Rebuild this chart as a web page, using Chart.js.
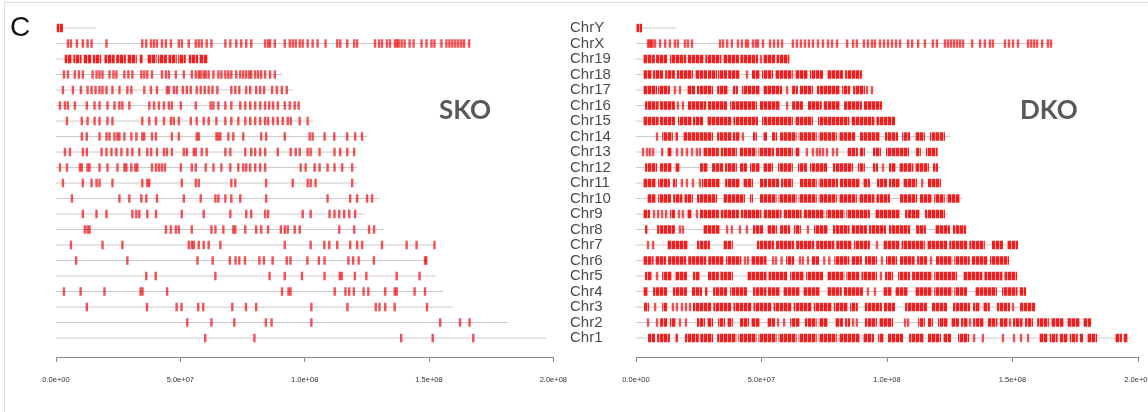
<!DOCTYPE html>
<html>
<head>
<meta charset="utf-8">
<script src="https://cdn.jsdelivr.net/npm/chart.js@4.4.0/dist/chart.umd.min.js"></script>
<style>
  html, body { margin: 0; padding: 0; background: #fff; width: 1148px; height: 412px; overflow: hidden; }
  #frame { position: absolute; left: 4px; top: 2px; width: 1300px; height: 600px; border: 1.5px solid #dedede; }
  canvas { position: absolute; top: 0; }
  #sko { left: 0; }
  #dko { left: 560px; }
  .lbl { position: absolute; line-height: 1; white-space: nowrap; }
  #panel { left: 10px; top: 11px; font: 28px "Liberation Sans", Arial, sans-serif; color: #111; }
  .tag { top: 93px; font: bold 26px Lato, "Liberation Sans", sans-serif; color: #595959; }
</style>
</head>
<body>
<div id="frame"></div>
<canvas id="sko" width="580" height="412"></canvas>
<canvas id="dko" width="620" height="412"></canvas>
<div class="lbl" id="panel">C</div>
<div class="lbl tag" style="left:439px">SKO</div>
<div class="lbl tag" style="left:1020px">DKO</div>
<script>
// --- data (positions in Mb, rows Chr1 .. ChrY) ---
const chromosomes = ["Chr1", "Chr2", "Chr3", "Chr4", "Chr5", "Chr6", "Chr7", "Chr8", "Chr9", "Chr10",
  "Chr11", "Chr12", "Chr13", "Chr14", "Chr15", "Chr16", "Chr17", "Chr18", "Chr19", "ChrX", "ChrY"];
const chromLengthsMb = [197.2, 181.7, 159.6, 155.6, 152.5, 149.5, 152.5, 131.7, 124.1, 130.0,
  121.8, 121.3, 120.3, 125.2, 103.5, 98.3, 95.3, 90.8, 61.3, 166.7, 15.9];
const xTickValues = [0, 5e7, 1e8, 1.5e8, 2e8];

const skoMarks = [
  [60.0, 79.8, 138.8, 151.5, 167.8],
  [52.8, 62.5, 71.7, 84.4, 86.7, 102.7, 154.5, 162.5, 166.3],
  [12.4, 36.6, 48.5, 50.5, 57.2, 59.2, 70.9, 76.4, 80.5, 102.7, 117.2, 128.6, 130.1, 132.4, 136.2, 149.2],
  [3.2, 9.9, 19.5, 34.0, 34.8, 44.7, 90.9, 93.5, 94.3, 112.1, 116.4, 117.9, 119.8, 123.7, 125.6, 132.4, 136.2, 137.0, 144.2, 148.4],
  [36.3, 40.1, 64.1, 85.9, 92.0, 98.9, 108.0, 114.1, 114.9, 120.2, 124.8, 137.0, 146.2],
  [8.1, 28.7, 56.9, 63.0, 69.9, 72.2, 73.7, 76.0, 81.8, 83.6, 87.1, 92.8, 94.3, 101.1, 105.7, 108.0, 117.6, 119.5, 121.7, 127.8, 148.4, 148.9],
  [6.0, 18.7, 26.7, 53.4, 54.6, 55.4, 57.4, 59.4, 61.4, 66.1, 92.0, 102.4, 107.9, 109.9, 113.1, 118.3, 121.1, 123.1, 131.1, 141.0, 145.0, 152.2],
  [11.6, 12.7, 13.5, 44.2, 46.2, 48.2, 49.4, 54.6, 62.5, 64.1, 67.3, 71.3, 72.1, 76.1, 80.5, 82.5, 85.3, 90.4, 92.0, 93.2, 96.0, 98.0, 113.9, 119.9, 125.9, 127.9],
  [10.8, 16.3, 20.3, 30.7, 32.3, 33.5, 36.7, 40.2, 50.6, 59.4, 70.1, 76.5, 78.5, 84.1, 85.3, 99.2, 102.4, 110.0, 112.0, 113.9, 115.9, 117.9, 120.3],
  [6.4, 25.5, 29.5, 34.3, 36.3, 40.6, 51.4, 58.2, 64.1, 65.3, 68.1, 70.5, 74.1, 84.5, 109.2, 118.3, 121.1, 125.1, 127.1],
  [2.8, 10.8, 14.3, 16.3, 17.5, 22.7, 34.7, 36.7, 37.5, 50.6, 56.2, 57.4, 70.5, 72.1, 84.5, 95.2, 101.2, 102.4, 104.4, 119.1],
  [1.6, 4.4, 9.6, 10.4, 12.7, 13.5, 17.5, 20.7, 24.7, 27.5, 28.3, 30.3, 31.9, 32.7, 38.6, 40.2, 41.4, 42.6, 43.8, 50.2, 54.6, 56.2,
    60.2, 63.3, 66.5, 70.1, 73.3, 75.3, 76.5, 78.1, 80.1, 82.1, 84.1, 98.4, 100.4, 104.0, 106.0, 109.2, 112.0, 115.1, 119.1],
  [3.6, 5.6, 10.8, 12.4, 18.3, 20.3, 22.3, 24.3, 26.3, 28.7, 30.7, 33.5, 36.7, 38.2, 40.6, 43.4, 44.6, 46.6, 51.4, 52.6, 55.4, 56.2,
    58.6, 60.6, 68.1, 70.1, 76.1, 78.5, 80.1, 82.1, 84.1, 89.2, 94.4, 96.4, 98.0, 101.2, 102.4, 106.0, 112.0, 114.3, 117.1, 119.9],
  [10.4, 12.4, 17.5, 20.3, 21.5, 23.5, 24.7, 25.5, 27.5, 30.3, 32.3, 34.7, 35.5, 38.6, 40.2, 46.6, 49.4, 56.6, 57.4, 64.5, 65.3, 66.1,
    69.3, 71.3, 75.3, 82.5, 84.5, 92.0, 102.0, 103.2, 108.0, 111.9, 117.1, 120.3, 123.1],
  [4.4, 10.4, 12.7, 15.5, 17.5, 20.7, 22.7, 34.7, 37.5, 40.2, 43.4, 46.2, 47.4, 49.4, 54.2, 56.6, 59.4, 61.4, 64.5, 68.1, 70.5, 73.3,
    76.1, 78.1, 80.1, 82.1, 84.1, 85.3, 87.3, 89.2, 91.2, 93.2, 94.4, 98.0, 101.2],
  [1.6, 3.6, 4.8, 7.6, 12.4, 15.5, 17.5, 20.7, 23.5, 25.5, 26.7, 29.5, 37.5, 39.4, 41.4, 43.4, 45.4, 46.6, 50.2, 56.2, 62.2, 63.3,
    65.3, 68.1, 70.5, 74.1, 76.1, 78.1, 80.1, 82.1, 84.1, 85.7, 87.3, 89.2, 92.0, 94.0, 96.0, 97.6],
  [2.8, 6.8, 10.0, 12.7, 14.3, 15.9, 17.5, 18.7, 20.3, 22.7, 25.5, 28.7, 30.3, 35.5, 38.2, 40.6, 44.6, 45.4, 47.4, 48.6, 51.0, 52.6,
    54.2, 56.6, 58.2, 59.8, 61.4, 62.9, 64.9, 70.5, 72.1, 73.7, 76.5, 78.1, 80.5, 82.1, 83.7, 86.9, 88.8, 90.8, 92.8],
  [3.2, 4.8, 7.6, 9.2, 10.8, 14.7, 16.3, 17.5, 18.7, 21.5, 23.1, 24.3, 27.5, 29.1, 30.7, 34.3, 35.5, 36.7, 38.6, 42.6, 44.2, 45.4,
    48.2, 51.4, 54.6, 56.2, 57.4, 58.2, 59.4, 60.2, 61.4, 63.3, 65.3, 66.5, 68.1, 69.3, 70.5, 72.5, 74.1, 75.3, 76.5, 77.7, 78.5,
    80.1, 81.3, 82.5, 84.1, 86.1, 88.0],
  [],
  [4.8, 6.0, 8.4, 10.8, 12.7, 14.3, 20.3, 34.7, 36.3, 38.2, 39.4, 40.6, 42.6, 44.2, 46.2, 49.4, 50.6, 53.4, 56.2, 57.4, 58.6, 60.6,
    62.5, 68.1, 70.1, 72.5, 74.5, 76.5, 78.5, 84.1, 85.3, 86.1, 88.0, 92.0, 94.0, 95.2, 96.4, 98.0, 99.2, 101.2, 103.2, 105.2, 108.4,
    113.1, 114.3, 117.1, 119.9, 121.1, 128.3, 129.9, 131.1, 133.1, 134.3, 136.3, 137.1, 137.8, 139.0, 140.2, 142.2, 143.8, 147.0,
    149.0, 151.0, 152.2, 155.0, 157.0, 158.2, 159.4, 160.6, 161.8, 163.0, 164.1, 166.1],
  []
];
const skoBlocks = [
  [], [], [], [], [], [], [], [], [], [], [], [], [], [], [], [], [], [],
  [[3.5, 6.5], [7.0, 10.3], [11.0, 14.3], [14.8, 18.2], [19.5, 23.6], [24.2, 28.1], [28.6, 32.5], [33.5, 34.8],
    [36.6, 40.5], [41.0, 44.6], [45.2, 48.6], [49.1, 52.2], [53.4, 57.1], [57.6, 61.0]],
  [],
  [[0.3, 2.8]]
];

const dkoMarks = [
  [134.7, 138.2, 146.2, 150.6, 153.4, 156.2],
  [4.8, 8.4, 17.5, 19.9, 56.6, 59.0, 86.5, 88.0, 107.2, 108.4, 133.1, 149.0],
  [7.6, 14.7, 16.3, 18.3, 19.9, 21.5, 150.2],
  [92.4, 95.2],
  [8.4, 97.6],
  [43.4, 44.6, 54.6, 55.8, 58.0, 65.3, 66.5, 68.5, 75.0, 77.0, 98.0, 117.5],
  [4.8, 6.8, 96.0],
  [17.5, 18.7, 36.3, 38.2, 41.4, 44.2, 68.5],
  [7.2, 8.8, 10.4, 12.0, 17.1, 18.7, 24.3],
  [],
  [18.3, 20.3, 22.7, 25.5, 114.0],
  [98.4],
  [2.8, 4.4, 5.6, 6.8, 10.4, 16.3, 18.3, 20.3, 22.3, 24.3, 25.5, 68.1, 70.5, 72.1, 73.3, 74.5, 76.1, 78.5, 80.1],
  [8.4, 42.6],
  [],
  [16.7, 18.7, 60.2],
  [15.5, 17.5, 60.2, 92.0, 94.0],
  [44.2],
  [49.8],
  [4.8, 5.4, 6.0, 6.6, 7.6, 9.6, 11.6, 13.5, 15.5, 16.7, 19.5, 20.7, 22.3, 33.5, 34.7, 36.3, 38.2, 40.6, 42.2, 43.8, 44.6, 46.6,
    47.8, 48.6, 50.6, 53.4, 55.0, 56.6, 58.2, 62.5, 64.1, 65.7, 67.3, 68.9, 70.5, 72.5, 74.5, 76.5, 78.1, 80.1, 84.1, 86.5, 88.0,
    90.8, 92.4, 94.0, 95.2, 97.2, 98.8, 100.4, 102.0, 103.6, 105.2, 108.4, 110.0, 112.4, 115.1, 118.3, 119.9, 123.1, 124.3, 125.5,
    126.7, 127.9, 129.1, 130.3, 133.9, 137.1, 139.0, 141.0, 142.2, 147.0, 148.6, 150.2, 152.2, 156.2, 157.4, 158.6, 159.8, 161.8,
    164.1, 165.3],
  []
];
const dkoBlocks = [
  [[4.8, 7.6], [8.4, 13.5], [15.5, 16.7], [19.5, 25.0], [25.6, 30.7], [32.3, 40.0], [40.8, 48.0], [48.8, 56.0], [56.8, 64.0],
    [64.8, 72.0], [72.8, 80.0], [80.8, 89.2], [90.4, 94.8], [96.4, 98.8], [100.4, 106.4], [108.8, 114.7], [116.3, 121.5],
    [122.3, 125.5], [128.3, 132.7], [160.6, 164.0], [164.8, 168.0], [168.8, 172.0], [172.8, 176.0], [176.8, 178.1],
    [179.7, 183.7], [190.8, 193.6], [194.2, 196.0]],
  [[9.6, 12.4], [13.5, 15.9], [24.3, 27.5], [28.3, 30.7], [32.7, 35.5], [36.3, 38.6], [41.4, 45.0], [45.8, 49.4], [52.2, 55.4],
    [61.4, 65.3], [67.3, 72.0], [72.8, 76.5], [79.3, 82.5], [83.3, 85.3], [91.2, 96.0], [96.8, 102.4], [112.4, 115.1],
    [116.3, 118.3], [120.3, 124.3], [125.5, 128.7], [129.5, 132.3], [134.3, 138.6], [140.2, 144.0], [145.0, 148.2],
    [150.2, 154.0], [155.0, 158.2], [159.8, 164.5], [165.3, 170.5], [171.7, 176.9], [178.1, 181.3]],
  [[3.2, 5.2], [10.4, 12.4], [22.7, 30.0], [30.8, 38.0], [38.8, 46.0], [46.8, 54.0], [54.8, 62.0], [62.8, 70.0], [70.8, 78.0],
    [78.8, 84.5], [85.3, 88.4], [91.2, 98.0], [98.8, 103.2], [107.2, 115.9], [117.9, 123.9], [126.3, 133.1], [134.3, 137.1],
    [138.2, 141.0], [143.8, 149.0], [153.0, 159.0]],
  [[2.8, 4.8], [6.8, 12.4], [14.7, 20.3], [22.3, 26.3], [27.5, 28.7], [30.7, 36.3], [37.5, 44.2], [46.6, 52.0], [52.6, 57.4],
    [58.6, 65.3], [66.5, 73.3], [76.1, 82.0], [82.8, 90.4], [98.4, 102.0], [103.2, 108.4], [111.2, 118.0], [118.8, 126.0],
    [126.8, 131.9], [135.1, 143.8], [145.8, 152.0], [152.8, 155.4]],
  [[3.6, 6.4], [10.4, 14.3], [15.5, 20.3], [22.7, 25.5], [28.7, 33.0], [33.6, 38.6], [44.2, 52.0], [52.8, 60.2], [61.4, 67.0],
    [67.8, 74.5], [76.1, 83.0], [83.8, 89.0], [89.8, 96.0], [99.2, 102.4], [104.4, 109.2], [110.0, 118.0], [118.8, 127.9],
    [130.3, 138.0], [138.8, 146.0], [146.8, 151.8]],
  [[2.8, 7.0], [7.6, 12.0], [12.8, 20.0], [20.8, 28.0], [28.8, 35.0], [35.8, 42.0], [45.8, 52.0], [59.8, 63.0], [70.0, 73.0],
    [79.0, 85.0], [85.8, 90.0], [91.2, 96.0], [99.6, 104.0], [105.2, 111.0], [112.0, 116.0], [119.5, 126.0], [126.8, 133.0],
    [133.8, 140.0], [141.0, 148.6]],
  [[12.4, 20.7], [24.3, 29.5], [34.7, 38.6], [48.2, 55.0], [55.8, 63.0], [63.8, 71.0], [71.8, 79.0], [79.8, 86.0], [86.8, 93.2],
    [98.4, 105.0], [105.8, 115.1], [115.9, 124.0], [124.8, 132.0], [132.8, 139.0], [141.8, 146.2], [147.8, 152.2]],
  [[3.6, 4.8], [8.4, 15.5], [26.7, 33.5], [46.6, 50.6], [52.2, 56.2], [57.4, 61.4], [62.9, 65.7], [70.9, 76.5], [78.5, 85.1],
    [85.9, 92.0], [92.8, 99.6], [100.8, 109.2], [111.6, 115.5], [119.1, 125.1], [126.3, 131.5]],
  [[2.8, 5.6], [13.5, 15.5], [20.3, 22.3], [25.5, 33.0], [33.8, 41.0], [41.8, 50.0], [50.8, 58.0], [58.8, 66.0], [66.8, 75.0],
    [75.8, 83.0], [83.8, 93.2], [95.2, 105.2], [107.2, 113.1], [115.1, 123.1]],
  [[4.4, 8.0], [8.8, 14.0], [14.8, 18.5], [19.3, 22.7], [24.3, 32.3], [34.7, 43.4], [45.4, 46.6], [49.4, 56.0], [56.8, 64.0],
    [64.8, 72.0], [72.8, 80.0], [80.8, 88.0], [88.8, 95.0], [95.8, 101.2], [105.2, 112.0], [113.1, 118.0], [118.8, 123.0],
    [123.8, 129.1]],
  [[2.8, 8.0], [8.8, 13.5], [14.7, 16.3], [26.3, 33.5], [35.5, 41.4], [42.6, 46.6], [49.4, 52.2], [52.6, 57.0], [57.8, 62.5],
    [65.3, 72.0], [72.8, 80.5], [81.3, 89.2], [90.4, 93.2], [96.0, 100.0], [100.8, 105.2], [106.4, 112.0], [116.3, 121.5]],
  [[3.6, 8.4], [9.6, 14.3], [15.5, 17.5], [25.5, 28.7], [30.3, 34.7], [35.5, 40.2], [41.4, 44.2], [45.4, 49.4], [50.6, 54.6],
    [56.6, 62.5], [64.5, 68.1], [69.3, 76.1], [78.5, 86.5], [88.4, 91.2], [94.4, 96.4], [100.8, 103.6], [104.8, 110.5],
    [111.2, 116.7], [118.3, 120.3]],
  [[12.4, 14.3], [26.7, 33.0], [33.8, 40.2], [41.4, 48.0], [48.8, 55.0], [55.8, 62.5], [63.3, 65.3], [84.1, 88.4], [89.2, 91.2],
    [94.4, 97.6], [99.6, 108.8], [111.6, 113.5], [115.5, 120.2]],
  [[10.4, 14.7], [15.5, 16.7], [18.7, 30.7], [32.3, 38.2], [38.6, 41.4], [46.6, 48.2], [50.6, 52.2], [54.2, 56.2], [57.4, 64.0],
    [64.8, 72.0], [72.8, 80.0], [80.8, 87.3], [89.2, 97.2], [99.2, 104.4], [106.0, 109.2], [111.2, 115.1], [117.1, 123.1]],
  [[2.8, 9.0], [9.6, 15.5], [16.7, 22.3], [22.7, 26.7], [28.3, 38.0], [38.8, 48.6], [50.2, 62.5], [63.3, 70.5], [72.5, 85.0],
    [85.8, 95.0], [95.8, 103.2]],
  [[3.6, 9.0], [9.6, 15.5], [20.7, 28.0], [28.7, 36.3], [37.5, 48.2], [49.4, 57.4], [62.2, 66.5], [68.5, 74.0], [74.8, 81.3],
    [82.9, 90.0], [90.8, 98.0]],
  [[2.8, 8.4], [8.8, 13.5], [20.3, 23.5], [24.3, 30.7], [32.3, 36.7], [38.6, 40.6], [42.2, 49.4], [50.6, 58.2], [62.2, 64.5],
    [65.3, 70.5], [72.1, 81.3], [82.1, 85.3], [86.5, 91.2]],
  [[2.8, 6.4], [6.8, 10.8], [11.6, 15.5], [16.3, 22.7], [23.5, 28.3], [28.7, 32.3], [32.7, 36.3], [36.7, 41.4], [46.2, 49.4],
    [50.2, 54.6], [55.4, 62.5], [63.3, 68.5], [69.3, 74.5], [76.1, 82.5], [83.3, 90.0]],
  [[2.8, 7.5], [8.0, 12.4], [13.5, 20.0], [20.6, 27.0], [27.6, 34.0], [34.6, 41.0], [41.6, 48.6], [50.6, 55.5], [56.0, 61.1]],
  [],
  [[0.2, 2.4]]
];

// --- helpers ---
const MB = 1e6;
const markColor = "rgba(238,0,6,0.68)";

// striped fill so dense runs read as many close marks, like the original
function stripePattern(ctx) {
  const c = document.createElement("canvas");
  c.width = 4; c.height = 16;
  const p = c.getContext("2d");
  p.fillStyle = "rgba(240,0,0,0.88)";
  p.fillRect(0, 0, 3, 16);
  p.fillStyle = "rgba(245,90,100,0.55)";
  p.fillRect(3, 0, 1, 16);
  return ctx.createPattern(c, "repeat");
}

function rowLinePoints() {
  const pts = [];
  chromLengthsMb.forEach((len, i) => {
    pts.push({ x: 0, y: i + 1 }, { x: len * MB, y: i + 1 }, { x: null, y: null });
  });
  return pts;
}

function markPoints(marks) {
  const pts = [];
  marks.forEach((row, i) => row.forEach((m) => pts.push({ x: m * MB, y: i + 1 })));
  return pts;
}

function blockPoints(blocks) {
  const pts = [];
  blocks.forEach((row, i) => row.forEach(([a, b]) => {
    pts.push({ x: a * MB, y: i + 1 }, { x: b * MB, y: i + 1 }, { x: null, y: null });
  }));
  return pts;
}

function sciLabel(v) {
  return Number(v).toExponential(1).replace(/e([+-])(\d)$/, "e$10$2");
}

function drawPanel(canvasId, marks, blocks, withNames, padding) {
  const ctx = document.getElementById(canvasId).getContext("2d");
  return new Chart(ctx, {
    type: "line",
    data: {
      datasets: [
        {
          data: markPoints(marks),
          showLine: false,
          pointStyle: "line",
          pointRotation: 90,
          pointRadius: 4.2,
          pointBorderWidth: 2.4,
          pointBorderColor: markColor,
          pointBackgroundColor: markColor,
          order: 1,
        },
        {
          data: blockPoints(blocks),
          borderColor: stripePattern(ctx),
          borderWidth: 8.4,
          borderCapStyle: "butt",
          pointRadius: 0,
          spanGaps: false,
          order: 2,
        },
        {
          data: rowLinePoints(),
          borderColor: "#c9c9c9",
          borderWidth: 1,
          pointRadius: 0,
          spanGaps: false,
          order: 3,
        },
      ],
    },
    options: {
      responsive: false,
      animation: false,
      events: [],
      layout: { padding },
      plugins: { legend: { display: false }, tooltip: { enabled: false } },
      scales: {
        x: {
          type: "linear",
          min: 0,
          max: 2e8,
          afterBuildTicks: (s) => { s.ticks = xTickValues.map((v) => ({ value: v })); },
          grid: { display: true, drawOnChartArea: false, drawTicks: true, tickLength: 5, color: "#8a8a8a" },
          border: { display: true, color: "#8a8a8a", width: 1 },
          ticks: {
            padding: 13,
            maxRotation: 0,
            color: "#333",
            font: { family: "'Liberation Sans', Arial, sans-serif", size: 7.5 },
            callback: sciLabel,
          },
        },
        y: {
          type: "linear",
          min: -0.222,
          max: 21.52,
          display: withNames,
          afterBuildTicks: (s) => { s.ticks = chromosomes.map((c, i) => ({ value: i + 1 })); },
          afterFit: (s) => { if (withNames) s.width = 66; },
          grid: { display: false },
          border: { display: false },
          ticks: {
            autoSkip: false,
            crossAlign: "far",
            padding: 0,
            color: "#4a4a4a",
            font: { family: "'Liberation Sans', Arial, sans-serif", size: 15 },
            callback: (v) => chromosomes[v - 1],
          },
        },
      },
    },
  });
}

drawPanel("sko", skoMarks, skoBlocks, false, { left: 56, right: 22, top: 20, bottom: 15 });
drawPanel("dko", dkoMarks, dkoBlocks, true, { left: 10, right: 42, top: 20, bottom: 15 });
</script>
</body>
</html>
